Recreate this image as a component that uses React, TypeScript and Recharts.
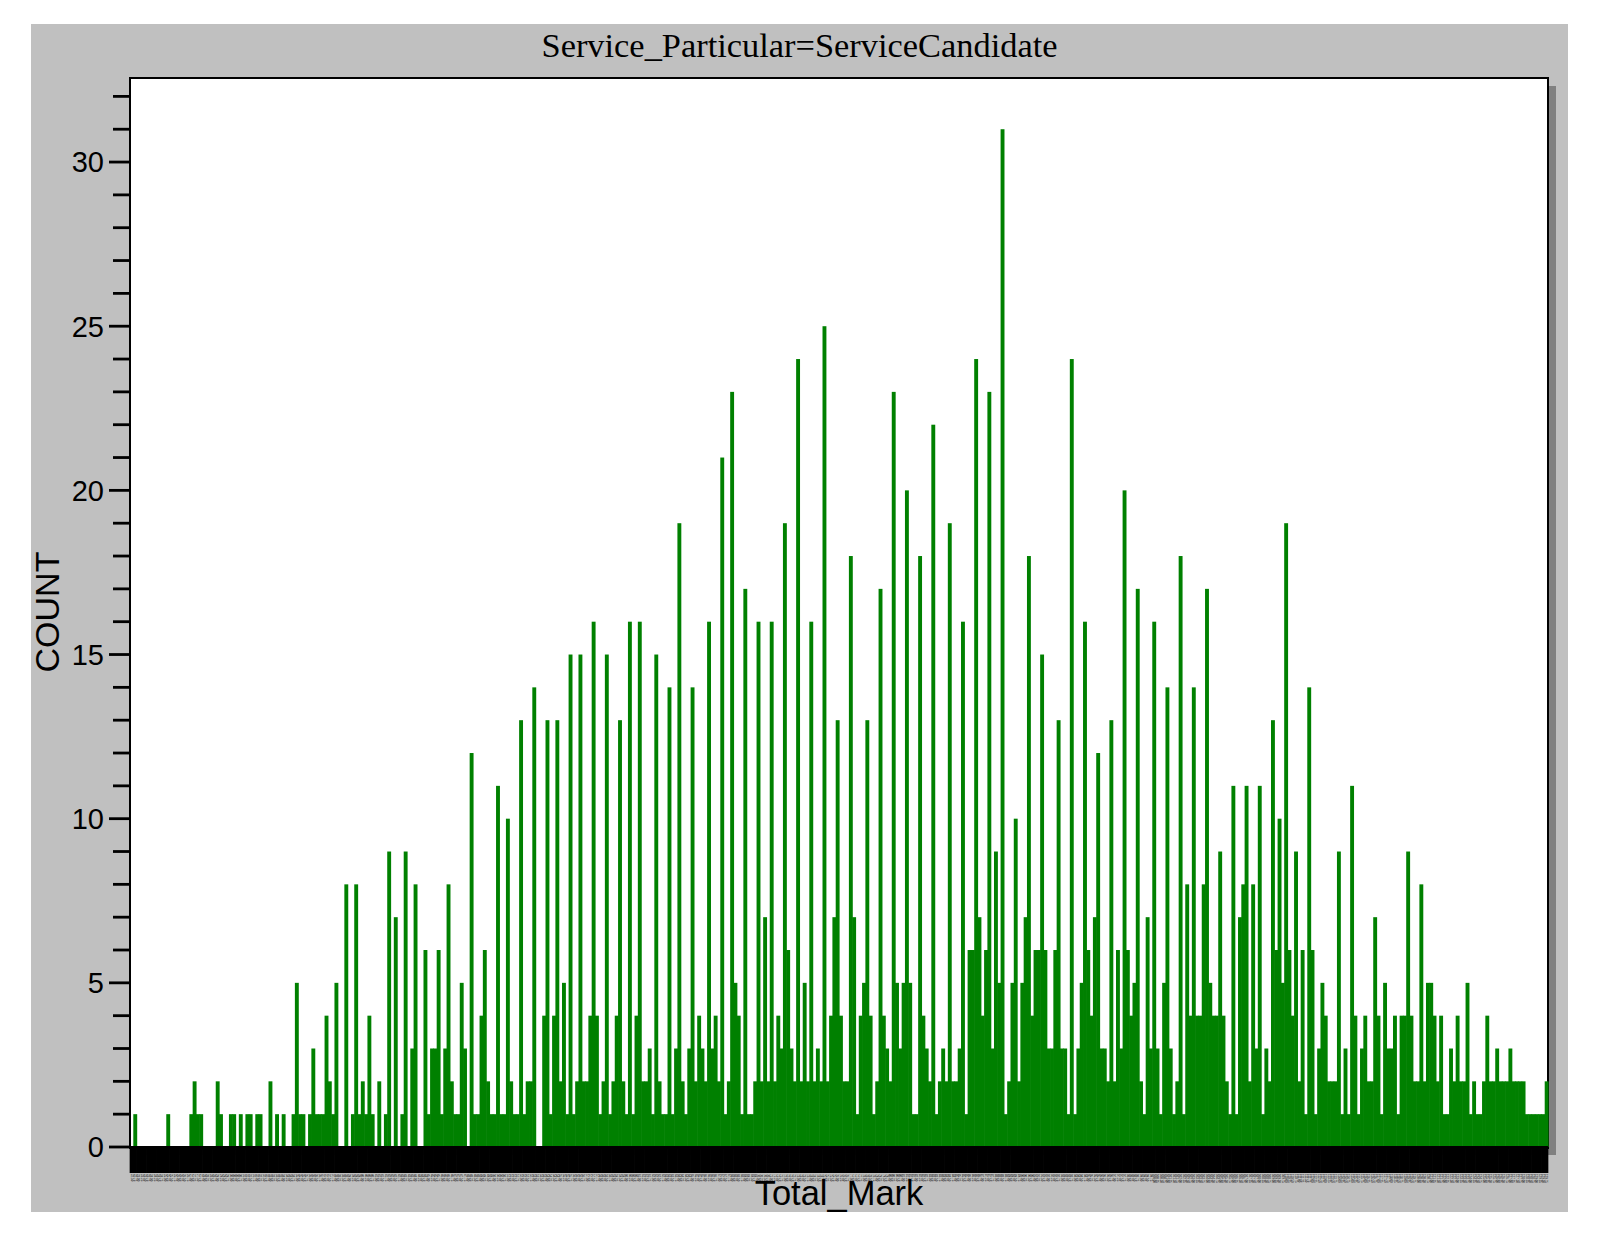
import React from 'react';
import { BarChart, Bar, XAxis, YAxis } from 'recharts';

// COUNT per Total_Mark slot, read left to right from the reference
const countsA = [
  0, 1, 0, 0, 0, 0, 0, 0, 0, 0, 0, 1, 0, 0, 0, 0, 0, 0, 1, 2,
  1, 1, 0, 0, 0, 0, 2, 1, 0, 0, 1, 1, 0, 1, 0, 1, 1, 0, 1, 1,
  0, 0, 2, 0, 1, 0, 1, 0, 0, 1, 5, 1, 1, 0, 1, 3, 1, 1, 1, 4,
  2, 1, 5, 0, 0, 8, 0, 1, 8, 1, 2, 1,
];
const countsB = [
  4, 1, 0, 2, 0, 1, 9, 0, 7, 0, 1, 9, 0, 3, 8, 0, 0, 6, 1, 3,
  3, 6, 1, 3, 8, 2, 1, 1, 5, 3, 0, 12, 1, 1, 4, 6, 2, 1, 1, 11,
  1, 1, 10, 2, 1, 1, 13, 1, 2, 2, 14, 0, 0, 4, 13, 1, 4, 13, 2, 5,
  1, 15, 1, 2, 15, 2, 2, 4, 16, 4, 1, 2,
];
const countsC = [
  15, 1, 2, 4, 13, 2, 1, 16, 1, 4, 16, 2, 2, 3, 1, 15, 2, 1, 1, 14,
  1, 3, 19, 2, 1, 3, 14, 2, 4, 3, 2, 16, 3, 4, 2, 21, 1, 2, 23, 5,
  4, 1, 17, 1, 1, 2, 16, 2, 7, 2, 16, 2, 4, 3, 19, 6, 3, 2, 24, 2,
  5, 2, 16, 2, 3, 2, 25, 2, 4, 7, 13, 4,
];
const countsD = [
  2, 2, 18, 7, 1, 4, 5, 13, 4, 1, 2, 17, 4, 3, 2, 23, 5, 3, 5, 20,
  5, 1, 1, 18, 4, 3, 2, 22, 1, 2, 3, 2, 19, 2, 2, 3, 16, 1, 6, 6,
  24, 7, 4, 6, 23, 3, 9, 5, 31, 1, 2, 5, 10, 2, 5, 7, 18, 4, 6, 6,
  15, 6, 3, 3, 6, 13, 3, 3, 1, 24, 1, 3, 5,
];
const countsE = [
  16, 6, 4, 7, 12, 3, 3, 2, 13, 2, 6, 3, 20, 6, 4, 5, 17, 2, 1, 7,
  3, 16, 3, 1, 5, 14, 3, 1, 2, 18, 1, 8, 4, 14, 4, 4, 8, 17, 5, 4,
  4, 9, 4, 2, 1, 11, 1, 7, 8, 11, 2, 8, 3, 11, 1, 3, 2, 13, 6, 10,
  5, 19, 6, 4, 9, 2, 6, 1, 14, 6, 1,
];
const countsF = [
  3, 5, 4, 2, 2, 2, 9, 1, 3, 1, 11, 4, 1, 3, 4, 2, 2, 7, 4, 1,
  5, 3, 3, 4, 1, 4, 4, 9, 4, 2, 2, 8, 2, 5, 5, 4, 2, 4, 1, 1,
  3, 2, 4, 2, 2, 5, 1, 2, 1, 1, 2, 4, 2, 2, 3, 2, 2, 2, 3, 2,
  2, 2, 2, 1, 1, 1, 1, 1, 1, 2,
];

const counts = [...countsA, ...countsB, ...countsC, ...countsD, ...countsE, ...countsF];

// Total_Mark category labels (illegible in the reference; quarter-mark steps)
const markStart = 22.5;
const markStep = 0.25;
const categories = counts.map((_, i) => (markStart + i * markStep).toFixed(2));

const yTicks = [0, 1, 2, 3, 4, 5, 6, 7, 8, 9, 10, 11, 12, 13, 14, 15, 16, 17, 18, 19, 20, 21, 22, 23, 24, 25, 26, 27, 28, 29, 30, 31, 32];
const yMax = 32.56;

const titleText = 'Service_Particular=ServiceCandidate';
const xTitle = 'Total_Mark';
const yTitle = 'COUNT';

const data = counts.map((c, i) => ({ mark: categories[i], count: c }));

const SANS = '"Liberation Sans", Arial, sans-serif';
const SERIF = '"Liberation Serif", "Times New Roman", serif';

const YTick = (props: any) => {
  const { x, y, payload } = props;
  const v = payload.value;
  const major = v % 5 === 0;
  const len = major ? 21 : 17;
  return (
    <g>
      <line x1={x - len} y1={y} x2={x} y2={y} stroke="#000" strokeWidth={2.8} />
      {major && (
        <text x={x - 26} y={y} dy="0.36em" textAnchor="end" fontSize={29} fontFamily={SANS} fill="#000">
          {v}
        </text>
      )}
    </g>
  );
};

const XTick = (props: any) => {
  const { x, y, payload } = props;
  return (
    <g transform={`translate(${x},${y})`}>
      <text transform="rotate(90)" x={0} y={0} dy="0.35em" textAnchor="start" fontSize={2.9} fontFamily={SANS} fill="#111">
        {payload.value}
      </text>
    </g>
  );
};

const BarShape = (props: any) => {
  const { x, y, width, height, fill } = props;
  if (!height || height <= 0) return null;
  return <rect x={x} y={y} width={width + 0.9} height={height} fill={fill} />;
};

const FRAME_W = 1537;
const FRAME_H = 1188;

export default function App() {
  return (
    <div style={{ position: 'relative', width: 1584, height: 1221 }}>
      <div style={{ position: 'absolute', left: 23, top: 16, width: FRAME_W, height: FRAME_H, background: '#c0c0c0' }} />
      <div style={{ position: 'absolute', left: 130, top: 78, width: 1418, height: 1069, background: '#808080' }} />
      <div
        style={{
          position: 'absolute',
          left: 121,
          top: 69,
          width: 1420,
          height: 1072,
          background: '#fff',
          border: '2px solid #000',
          boxSizing: 'border-box',
        }}
      />
      <div style={{ position: 'absolute', left: 23, top: 16 }}>
        <BarChart
          width={FRAME_W}
          height={FRAME_H}
          data={data}
          margin={{ top: 54, right: 20, bottom: 25, left: 0 }}
          barCategoryGap={0}
          barGap={0}
        >
          <XAxis
            dataKey="mark"
            interval={0}
            height={40}
            tickSize={26}
            tickMargin={1}
            tickLine={{ stroke: '#000', strokeWidth: 4 }}
            axisLine={{ stroke: '#000', strokeWidth: 2 }}
            tick={XTick}
          />
          <YAxis
            width={99}
            type="number"
            domain={[0, yMax]}
            ticks={yTicks}
            interval={0}
            tickSize={0}
            tickMargin={0}
            axisLine={false}
            tickLine={false}
            tick={YTick}
          />
          <Bar dataKey="count" fill="#008000" shape={BarShape} isAnimationActive={false} />
        </BarChart>
      </div>
      <svg
        width={1584}
        height={1221}
        style={{ position: 'absolute', left: 0, top: 0, pointerEvents: 'none' }}
      >
        <text x={23 + FRAME_W / 2} y={49} textAnchor="middle" fontSize={34.4} fontFamily={SERIF} fill="#000">
          {titleText}
        </text>
        <g transform="translate(51,604) rotate(-90)">
          <text x={0} y={0} textAnchor="middle" fontSize={34} fontFamily={SANS} fill="#000">
            {yTitle}
          </text>
        </g>
        <text x={831} y={1197} textAnchor="middle" fontSize={34.5} fontFamily={SANS} fill="#000">
          {xTitle}
        </text>
      </svg>
    </div>
  );
}
